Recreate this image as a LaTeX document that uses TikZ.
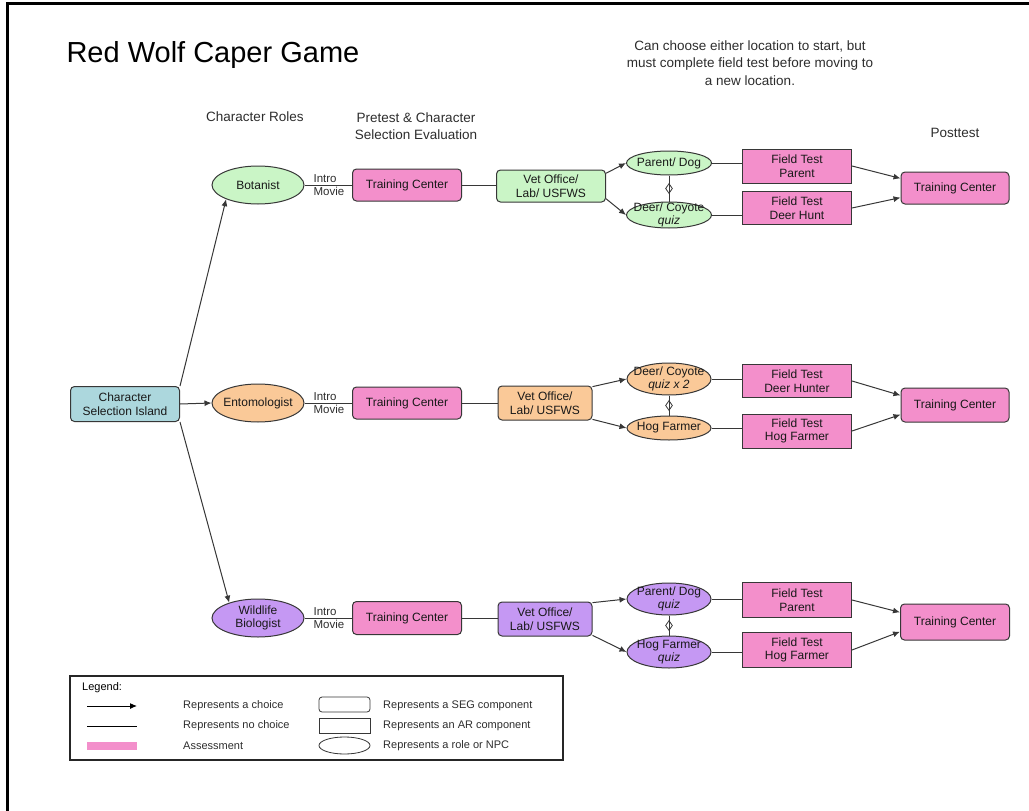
\documentclass[tikz,border=0pt]{standalone}
\usepackage{fontspec}
\setmainfont{Liberation Sans}
\usetikzlibrary{shapes.geometric,arrows.meta,calc}

\definecolor{ink}{RGB}{25,25,25}
\definecolor{headc}{RGB}{45,45,45}
\definecolor{edge}{RGB}{55,55,55}
\definecolor{gfill}{RGB}{202,245,198}
\definecolor{pinkfill}{RGB}{243,143,203}
\definecolor{ofill}{RGB}{250,201,152}
\definecolor{pfill}{RGB}{197,152,243}
\definecolor{bfill}{RGB}{172,215,221}

\begin{document}
\begin{tikzpicture}[x=1pt,y=-1pt,
  every node/.style={font=\fontsize{12}{13.5}\selectfont, text=ink},
  seg/.style={draw=edge, line width=1pt, rounded corners=4pt, minimum width=109pt,
              minimum height=32pt, align=center, inner sep=1pt},
  ar/.style={draw=edge, line width=1pt, fill=pinkfill, minimum width=109pt,
             minimum height=34pt, align=center, inner sep=1pt},
  npc/.style={ellipse, draw=edge, line width=1pt, inner sep=0pt,
              minimum width=84pt, minimum height=24pt},
  role/.style={npc, minimum width=92pt, minimum height=38pt},
  intxt/.style={align=center, inner sep=0pt},
  choice/.style={draw=edge, line width=1pt, -{Latex[length=7pt,width=6pt]}},
  plain/.style={draw=edge, line width=1pt},
  link/.style={diamond, draw=edge, line width=0.8pt, inner sep=0pt,
               minimum width=7pt, minimum height=10pt},
  head/.style={font=\fontsize{13.5}{17}\selectfont, text=headc, align=center},
  mvlab/.style={font=\fontsize{11.5}{12}\selectfont, text=headc, inner xsep=1pt, inner ysep=2pt},
  legtxt/.style={font=\fontsize{11}{13}\selectfont, text=headc, anchor=west, inner sep=0pt}
]
\useasboundingbox (0,0) rectangle (1029,811);

% outer frame
\draw[line width=3pt, black] (7,811) -- (7,3) -- (1029,3);

% title and column headings
\node[anchor=base west, font=\fontsize{29}{33}\selectfont, text=black] (title) at (63,62) {Red Wolf Caper Game};
\node[head] (hroles) at (255,117) {Character Roles};
\node[head] (hpre) at (416,126) {Pretest \& Character\\Selection Evaluation};
\node[head, font=\fontsize{13.5}{17.5}\selectfont] (hnote) at (750,63)
  {Can choose either location to start, but\\must complete field test before moving to\\a new location.};
\node[head] (hpost) at (955,133) {Posttest};

% start
\node[seg, fill=bfill, minimum height=35pt] (csi) at (125,404) {Character\\Selection Island};

% ---------- Botanist row ----------
\node[role, fill=gfill, label={[intxt]center:Botanist}] (bot) at (258,185) {};
\node[seg, fill=pinkfill] (tc1) at (407,185) {Training Center};
\node[seg, fill=gfill] (vo1) at (551,186) {Vet Office/\\Lab/ USFWS};
\node[npc, fill=gfill, minimum width=85pt, label={[intxt]center:Parent/ Dog}] (pd1) at (669,163) {};
\node[npc, fill=gfill, minimum width=85pt, minimum height=26pt,
      label={[intxt]center:Deer/ Coyote\\\textit{quiz}}] (dc1) at (669,215) {};
\node[ar] (ftp1) at (797,166) {Field Test\\Parent};
\node[ar, minimum height=33pt] (ftd1) at (797,208) {Field Test\\Deer Hunt};
\node[seg, fill=pinkfill, minimum width=108pt] (tcr1) at (955,188) {Training Center};

% ---------- Entomologist row ----------
\node[role, fill=ofill, label={[intxt]center:Entomologist}] (ent) at (258,403) {};
\node[seg, fill=pinkfill] (tc2) at (407,403) {Training Center};
\node[seg, fill=ofill, minimum width=94pt, minimum height=34pt] (vo2) at (545,403) {Vet Office/\\Lab/ USFWS};
\node[npc, fill=ofill, minimum height=32pt,
      label={[intxt]center:Deer/ Coyote\\\textit{quiz x 2}}] (dc2) at (669,379) {};
\node[npc, fill=ofill, label={[intxt]center:Hog Farmer}] (hf2) at (669,428) {};
\node[ar, minimum height=33pt] (ftd2) at (797,381) {Field Test\\Deer Hunter};
\node[ar] (fth2) at (797,431) {Field Test\\Hog Farmer};
\node[seg, fill=pinkfill, minimum width=108pt, minimum height=34pt] (tcr2) at (955,405) {Training Center};

% ---------- Wildlife Biologist row ----------
\node[role, fill=pfill, label={[intxt]center:Wildlife\\Biologist}] (wb) at (258,618) {};
\node[seg, fill=pinkfill, minimum height=33pt] (tc3) at (407,618) {Training Center};
\node[seg, fill=pfill, minimum width=94pt, minimum height=34pt] (vo3) at (545,619) {Vet Office/\\Lab/ USFWS};
\node[npc, fill=pfill, minimum height=32pt,
      label={[intxt]center:Parent/ Dog\\\textit{quiz}}] (pd3) at (669,599) {};
\node[npc, fill=pfill, minimum height=32pt,
      label={[intxt]center:Hog Farmer\\\textit{quiz}}] (hf3) at (669,652) {};
\node[ar, minimum height=35pt] (ftp3) at (797,600) {Field Test\\Parent};
\node[ar, minimum height=35pt] (fth3) at (797,650) {Field Test\\Hog Farmer};
\node[seg, fill=pinkfill, minimum height=36pt] (tcr3) at (955,622) {Training Center};

% ---------- connectors ----------
% role choices
\draw[choice] (csi.north east) -- (bot.204);
\draw[choice] (csi.east) -- (ent.west);
\draw[choice] (csi.south east) -- (wb.152);

% intro movies and pretest
\draw[plain] (bot.east) -- node[pos=0.16, anchor=south west, mvlab] {Intro}
                           node[pos=0.16, anchor=north west, mvlab] {Movie} (tc1.west);
\draw[plain] (ent.east) -- node[pos=0.16, anchor=south west, mvlab] {Intro}
                           node[pos=0.16, anchor=north west, mvlab] {Movie} (tc2.west);
\draw[plain] (wb.east) -- node[pos=0.16, anchor=south west, mvlab] {Intro}
                          node[pos=0.16, anchor=north west, mvlab] {Movie} (tc3.west);
\draw[plain] (tc1.east) -- (vo1.west|-tc1.east);
\draw[plain] (tc2.east) -- (vo2.west);
\draw[plain] (tc3.east) -- (vo3.west|-tc3.east);

% location choices
\draw[choice] (vo1.13) -- (pd1.west);
\draw[choice] (vo1.-13) -- (dc1.west);
\draw[choice] (vo2.19) -- (dc2.west);
\draw[choice] (vo2.-19) -- (hf2.west);
\draw[choice] (vo3.19) -- (pd3.west);
\draw[choice] (vo3.-19) -- (hf3.west);

% either-order links
\draw[plain] (pd1.south) -- node[link] {} (dc1.north);
\draw[plain] (dc2.south) -- node[link] {} (hf2.north);
\draw[plain] (pd3.south) -- node[link] {} (hf3.north);

% field tests
\draw[plain] (pd1.east) -- (pd1.east-|ftp1.west);
\draw[plain] (dc1.east) -- (dc1.east-|ftd1.west);
\draw[plain] (dc2.east) -- (dc2.east-|ftd2.west);
\draw[plain] (hf2.east) -- (hf2.east-|fth2.west);
\draw[plain] (pd3.east) -- (pd3.east-|ftp3.west);
\draw[plain] (hf3.east) -- (hf3.east-|fth3.west);

% posttest
\draw[choice] (ftp1.east) -- (tcr1.170);
\draw[choice] (ftd1.east) -- (tcr1.190);
\draw[choice] (ftd2.east) -- (tcr2.170);
\draw[choice] (fth2.east) -- (tcr2.190);
\draw[choice] (ftp3.east) -- (tcr3.170);
\draw[choice] (fth3.east) -- (tcr3.190);

% ---------- legend ----------
\node[draw=black!85, line width=2.2pt, anchor=north west, minimum width=493pt,
      minimum height=84pt, inner sep=0pt] (legend) at (69,675) {};
\node[legtxt, text=black] (legtitle) at (82,688) {Legend:};
\coordinate (la1) at (87,706);
\coordinate (la2) at (137,706);
\coordinate (lb1) at (87,726);
\coordinate (lb2) at (137,726);
\draw[choice, draw=black] (la1) -- (la2);
\draw[plain, draw=black] (lb1) -- (lb2);
\fill[pinkfill] (87,742) rectangle (137,750);
\node[legtxt] (lt1) at (183,706) {Represents a choice};
\node[legtxt] (lt2) at (183,726) {Represents no choice};
\node[legtxt] (lt3) at (183,746) {Assessment};
\node[draw=edge, line width=0.8pt, rounded corners=3pt, minimum width=51pt,
      minimum height=15pt, inner sep=0pt] (lsh1) at (344.5,704.5) {};
\node[draw=edge, line width=0.8pt, minimum width=51pt,
      minimum height=15pt, inner sep=0pt] (lsh2) at (344.5,725.5) {};
\node[ellipse, draw=edge, line width=0.8pt, minimum width=51pt,
      minimum height=17pt, inner sep=0pt] (lsh3) at (344.5,745.5) {};
\node[legtxt] (lt4) at (383,706) {Represents a SEG component};
\node[legtxt] (lt5) at (383,726) {Represents an AR component};
\node[legtxt] (lt6) at (383,746) {Represents a role or NPC};
\end{tikzpicture}
\end{document}
